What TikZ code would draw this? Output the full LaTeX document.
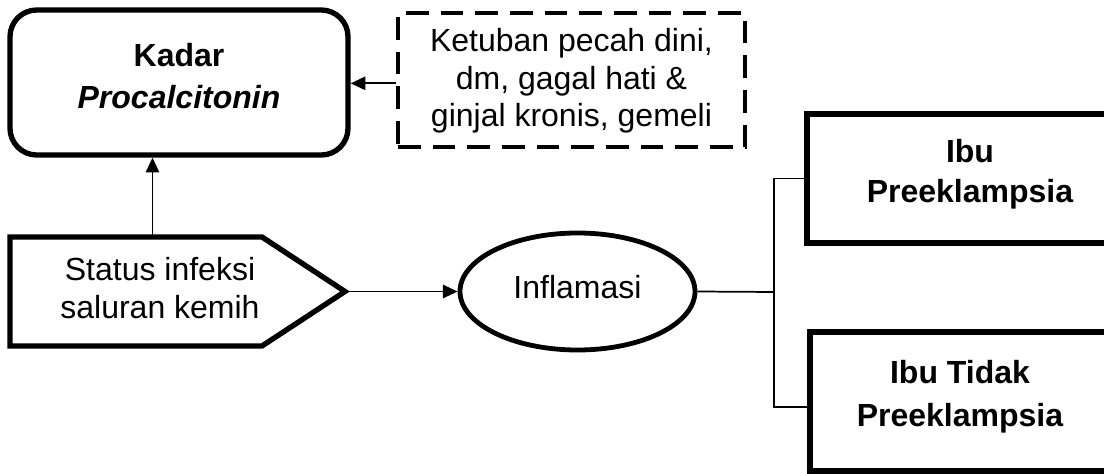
\documentclass[tikz,border=0pt]{standalone}
\usepackage{fontspec}
\setmainfont{Liberation Sans}
\usetikzlibrary{arrows.meta,shapes.geometric,calc}
\begin{document}
\begin{tikzpicture}[x=0.75pt,y=-0.75pt,
  thick box/.style={draw=black,line width=4pt,fill=white,inner sep=0pt},
  dashbox/.style={draw=black,line width=3.6pt,dash pattern=on 17pt off 9pt,inner sep=0pt},
  txt/.style={font=\fontsize{24}{28}\selectfont,align=center,inner sep=0pt},
  btxt/.style={font=\fontsize{24}{30}\selectfont\bfseries,align=center,inner sep=0pt},
  conn/.style={draw=black,line width=1.3pt},
  arr/.style={conn,-{Triangle[length=11pt,width=10pt]}}]
\useasboundingbox (0,0) rectangle (1104,474);
% boxes
\node[thick box,rounded corners=20pt,minimum width=253.5pt,minimum height=108.75pt] (kadar) at (179,82.5) {};
\node[btxt,font=\fontsize{24}{32}\selectfont\bfseries] (kadart) at (179,76) {Kadar\\\itshape Procalcitonin};
\node[dashbox,minimum width=260.25pt,minimum height=100.5pt] (dash) at (571.5,80) {};
\node[txt] (dasht) at (571.5,81) {Ketuban pecah dini,\\dm, gagal hati \&\\ginjal kronis, gemeli};
\node[inner sep=0pt,outer sep=0pt,minimum width=251.25pt,minimum height=81.75pt] (status) at (177.5,291.5) {};
\draw[line width=4pt,line join=miter]
  (status.north west) -- ([xshift=-62.25pt]status.north east) -- (status.east)
  -- ([xshift=-62.25pt]status.south east) -- (status.south west) -- cycle;
\node[txt] (statust) at (160,288) {Status infeksi\\saluran kemih};
\node[thick box,ellipse,line width=3.6pt,minimum width=176.25pt,minimum height=87.75pt] (infl) at (577.5,291.5) {};
\node[txt] (inflt) at (577.5,287) {Inflamasi};
\node[thick box,line width=4.2pt,minimum width=246pt,minimum height=96.75pt] (pe) at (971,178.5) {};
\node[btxt] (pet) at (970,174) {Ibu\\Preeklampsia};
\node[thick box,line width=4.2pt,minimum width=226.5pt,minimum height=104.25pt] (npe) at (961,401.5) {};
\node[btxt,font=\fontsize{24}{32}\selectfont\bfseries] (npet) at (960,397) {Ibu Tidak\\Preeklampsia};
% connectors
\coordinate (d1) at ([yshift=-2.5pt]dash.west);
\draw[arr] (d1) -- (d1 -| kadar.east);
\coordinate (s1) at ([xshift=-18.75pt]status.north);
\draw[arr] (s1) -- (s1 |- kadar.south);
\draw[arr] (status.east) -- (infl.west);
\coordinate (j) at (774,292);
\draw[conn] (infl.east) -- (j);
\draw[conn] (j) |- (pe.west);
\coordinate (n1) at ([yshift=-4pt]npe.west);
\draw[conn] (j) |- (n1);
\end{tikzpicture}
\end{document}
